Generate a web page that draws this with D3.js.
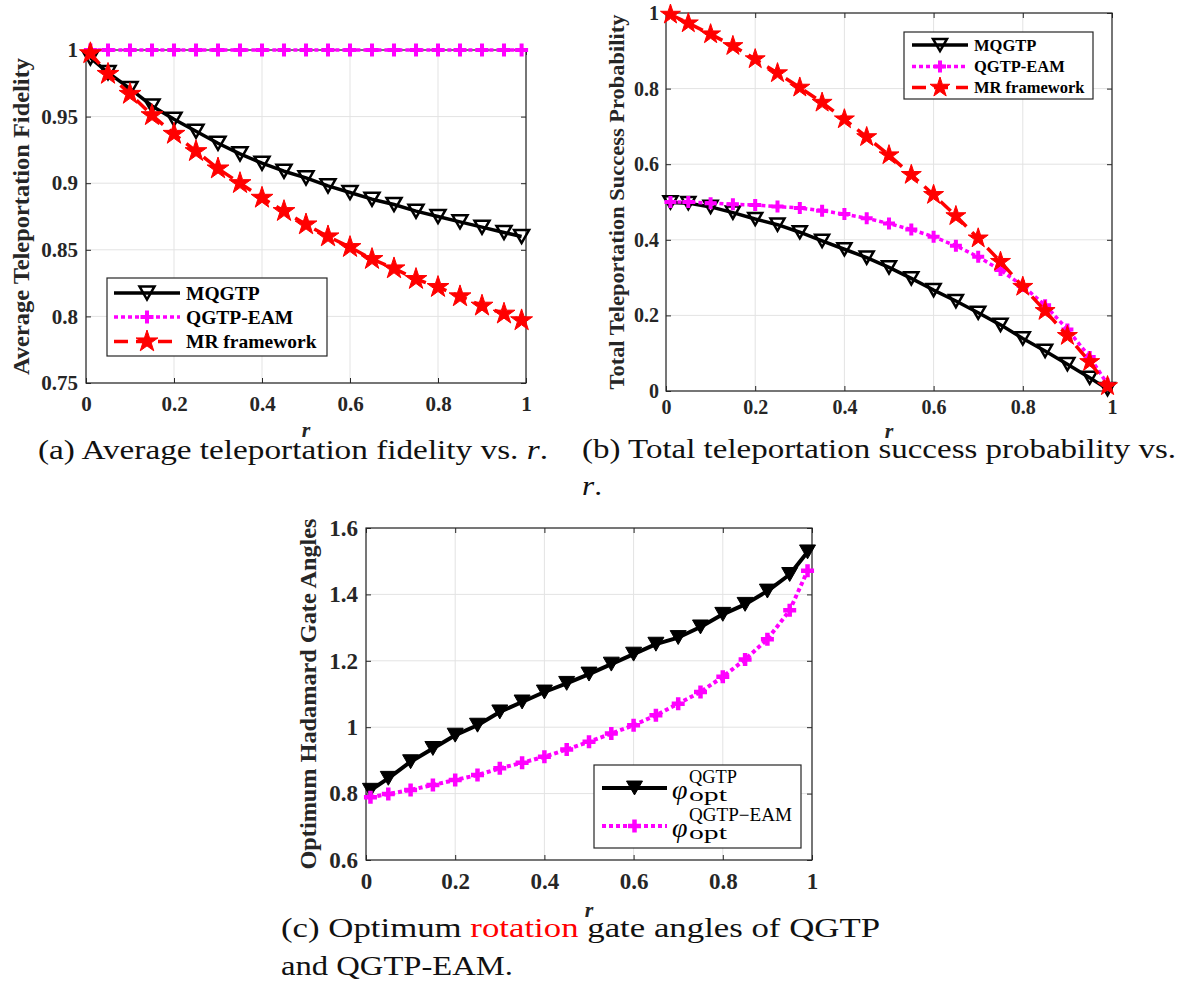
<!DOCTYPE html>
<html>
<head>
<meta charset="utf-8">
<script src="https://cdn.jsdelivr.net/npm/d3@7"></script>
<style>
  body { margin: 0; background: #fff; }
</style>
</head>
<body>
<div id="fig"></div>
<script>
// r values used for every curve
var rVals = [0.01, 0.05, 0.1, 0.15, 0.2, 0.25, 0.3, 0.35, 0.4, 0.45, 0.5,
             0.55, 0.6, 0.65, 0.7, 0.75, 0.8, 0.85, 0.9, 0.95, 0.99];

// (a) average teleportation fidelity
var fidMQGTP = [0.994, 0.983, 0.971, 0.958, 0.948, 0.939, 0.930, 0.922, 0.915, 0.909, 0.904,
                0.898, 0.893, 0.888, 0.884, 0.879, 0.875, 0.871, 0.867, 0.863, 0.860];
var fidEAM   = [1, 1, 1, 1, 1, 1, 1, 1, 1, 1, 1, 1, 1, 1, 1, 1, 1, 1, 1, 1, 1];
var fidMR    = [0.9975, 0.982, 0.967, 0.951, 0.937, 0.924, 0.911, 0.900, 0.889, 0.879, 0.869,
                0.860, 0.852, 0.843, 0.836, 0.828, 0.822, 0.815, 0.808, 0.802, 0.797];

// (b) total teleportation success probability
var probMQGTP = [0.499, 0.497, 0.487, 0.472, 0.455, 0.440, 0.420, 0.397, 0.375, 0.353, 0.327,
                 0.298, 0.267, 0.238, 0.207, 0.175, 0.139, 0.106, 0.071, 0.035, 0.005];
var probEAM   = [0.500, 0.500, 0.497, 0.494, 0.492, 0.488, 0.484, 0.477, 0.468, 0.457, 0.443,
                 0.427, 0.408, 0.384, 0.355, 0.320, 0.278, 0.227, 0.163, 0.090, 0.018];
var probMR    = [0.996, 0.973, 0.944, 0.913, 0.878, 0.841, 0.803, 0.763, 0.719, 0.672, 0.624,
                 0.572, 0.519, 0.463, 0.404, 0.342, 0.276, 0.212, 0.146, 0.077, 0.013];

// (c) optimum gate angles
var angQGTP = [0.810, 0.846, 0.896, 0.936, 0.976, 1.006, 1.046, 1.076, 1.106, 1.132, 1.160,
               1.190, 1.220, 1.250, 1.270, 1.302, 1.340, 1.370, 1.410, 1.460, 1.528];
var angEAM  = [0.789, 0.799, 0.811, 0.826, 0.841, 0.856, 0.876, 0.893, 0.911, 0.933, 0.956,
               0.981, 1.006, 1.036, 1.071, 1.106, 1.152, 1.204, 1.265, 1.352, 1.471];

// ticks
var xTicks = [0, 0.2, 0.4, 0.6, 0.8, 1];
var xTickLabels = ["0", "0.2", "0.4", "0.6", "0.8", "1"];
var yTicksA = [0.75, 0.8, 0.85, 0.9, 0.95, 1];
var yTickLabelsA = ["0.75", "0.8", "0.85", "0.9", "0.95", "1"];
var yTicksB = [0, 0.2, 0.4, 0.6, 0.8, 1];
var yTickLabelsB = ["0", "0.2", "0.4", "0.6", "0.8", "1"];
var yTicksC = [0.6, 0.8, 1, 1.2, 1.4, 1.6];
var yTickLabelsC = ["0.6", "0.8", "1", "1.2", "1.4", "1.6"];

var serif = "'Liberation Serif','Times New Roman',serif";
var axisCol = "#262626";

var svg = d3.select("#fig").append("svg")
    .attr("width", 1188)
    .attr("height", 985)
    .style("font-family", serif);

// marker drawing
function drawMarker(g, type, cx, cy, s) {
    if (type == "tri" || type == "trifill") {
        var w = s.w, h = s.w * 0.87;
        g.append("path")
            .attr("d", "M" + (cx - w) + "," + (cy - h) + "L" + (cx + w) + "," + (cy - h) + "L" + cx + "," + (cy + h) + "Z")
            .attr("fill", type == "trifill" ? "#000" : "none")
            .attr("stroke", "#000")
            .attr("stroke-width", s.sw)
            .attr("stroke-linejoin", "miter");
    } else if (type == "plus") {
        g.append("path")
            .attr("d", "M" + (cx - s.w) + "," + cy + "H" + (cx + s.w) + "M" + cx + "," + (cy - s.w) + "V" + (cy + s.w))
            .attr("stroke", "#ff00ff")
            .attr("stroke-width", s.sw)
            .attr("fill", "none");
    } else if (type == "star") {
        g.append("path")
            .attr("d", d3.symbol(d3.symbolStar).size(s.w * s.w / 0.8908)())
            .attr("transform", "translate(" + cx + "," + cy + ")")
            .attr("fill", "#ff0000")
            .attr("stroke", "#ff0000")
            .attr("stroke-width", 1);
    }
}

function drawPanel(o) {
    var x = d3.scaleLinear().domain([0, 1]).range([o.left, o.right]);
    var y = d3.scaleLinear().domain(o.yDomain).range([o.bottom, o.top]);
    var g = svg.append("g");

    // grid
    g.selectAll(".gx").data(xTicks).enter().append("line")
        .attr("x1", function (d) { return x(d); })
        .attr("x2", function (d) { return x(d); })
        .attr("y1", o.top).attr("y2", o.bottom)
        .attr("stroke", "#e3e3e3").attr("stroke-width", 1);
    g.selectAll(".gy").data(o.yTicks).enter().append("line")
        .attr("y1", function (d) { return y(d); })
        .attr("y2", function (d) { return y(d); })
        .attr("x1", o.left).attr("x2", o.right)
        .attr("stroke", "#e3e3e3").attr("stroke-width", 1);

    // axes
    g.append("g")
        .attr("transform", "translate(0," + o.bottom + ")")
        .call(d3.axisBottom(x).tickValues(xTicks)
            .tickFormat(function (d, i) { return xTickLabels[i]; })
            .tickSizeInner(-5).tickSizeOuter(0).tickPadding(o.xPad));
    g.append("g")
        .attr("transform", "translate(" + o.left + ",0)")
        .call(d3.axisLeft(y).tickValues(o.yTicks)
            .tickFormat(function (d, i) { return o.yLabels[i]; })
            .tickSizeInner(-5).tickSizeOuter(0).tickPadding(o.yPad));
    g.append("g")
        .attr("transform", "translate(0," + o.top + ")")
        .call(d3.axisTop(x).tickValues(xTicks).tickFormat("").tickSizeInner(-5).tickSizeOuter(0));
    g.append("g")
        .attr("transform", "translate(" + o.right + ",0)")
        .call(d3.axisRight(y).tickValues(o.yTicks).tickFormat("").tickSizeInner(-5).tickSizeOuter(0));
    g.selectAll(".domain").remove();
    g.selectAll(".tick line").attr("stroke", axisCol);
    g.selectAll(".tick text")
        .attr("fill", axisCol)
        .style("font-family", serif)
        .style("font-weight", "bold")
        .style("font-size", o.tickFont + "px");
    g.append("rect")
        .attr("x", o.left).attr("y", o.top)
        .attr("width", o.right - o.left).attr("height", o.bottom - o.top)
        .attr("fill", "none").attr("stroke", axisCol).attr("stroke-width", 1.2);

    // y label
    g.append("text")
        .attr("transform", "translate(" + o.yLabelX + "," + ((o.top + o.bottom) / 2) + ") rotate(-90)")
        .attr("text-anchor", "middle")
        .attr("textLength", o.yLabelLen)
        .attr("lengthAdjust", "spacingAndGlyphs")
        .style("font-weight", "bold")
        .style("font-size", o.yLabelFont + "px")
        .attr("fill", axisCol)
        .text(o.yLabel);

    // x label
    g.append("text")
        .attr("x", (o.left + o.right) / 2)
        .attr("y", o.xLabelY)
        .attr("text-anchor", "middle")
        .style("font-weight", "bold")
        .style("font-style", "italic")
        .style("font-size", "22px")
        .attr("fill", axisCol)
        .text("r");

    // series
    o.series.forEach(function (s) {
        var line = d3.line()
            .x(function (d, i) { return x(rVals[i]); })
            .y(function (d) { return y(d); });
        g.append("path")
            .datum(s.values)
            .attr("d", line)
            .attr("fill", "none")
            .attr("stroke", s.color)
            .attr("stroke-width", s.width)
            .attr("stroke-dasharray", s.dash)
            .attr("stroke-linejoin", "round");
        var mg = g.append("g");
        s.values.forEach(function (v, i) {
            drawMarker(mg, s.marker, x(rVals[i]), y(v), s.ms);
        });
    });

    // legend
    var L = o.legend;
    g.append("rect")
        .attr("x", L.x0).attr("y", L.y0)
        .attr("width", L.x1 - L.x0).attr("height", L.y1 - L.y0)
        .attr("fill", "#fff").attr("stroke", axisCol).attr("stroke-width", 1.2);
    o.series.forEach(function (s, i) {
        var ly = L.rows[i];
        g.append("line")
            .attr("x1", L.lx0).attr("x2", L.lx1)
            .attr("y1", ly).attr("y2", ly)
            .attr("stroke", s.color)
            .attr("stroke-width", s.width)
            .attr("stroke-dasharray", s.dash);
        drawMarker(g, s.marker, (L.lx0 + L.lx1) / 2, ly, s.ms);
        if (L.math) {
            g.append("text")
                .attr("x", L.tx).attr("y", ly + 11)
                .style("font-style", "italic")
                .style("font-size", "28px")
                .text("\u03c6");
            g.append("text")
                .attr("x", L.tx + 17).attr("y", ly - 5)
                .attr("textLength", s.supLen)
                .attr("lengthAdjust", "spacingAndGlyphs")
                .style("font-size", "18px")
                .text(s.sup);
            g.append("text")
                .attr("x", L.tx + 17).attr("y", ly + 13)
                .attr("textLength", 38)
                .attr("lengthAdjust", "spacingAndGlyphs")
                .style("font-size", "18px")
                .text("opt");
        } else {
            g.append("text")
                .attr("x", L.tx).attr("y", ly + L.font * 0.34)
                .style("font-weight", "bold")
                .style("font-size", L.font + "px")
                .text(s.name);
        }
    });
}

var msTri = {w: 7.5, sw: 2.5};
var msPlus = {w: 6.5, sw: 4};
var msStar = {w: 11.5};

drawPanel({
    left: 86, right: 526, top: 50, bottom: 383,
    yDomain: [0.75, 1], yTicks: yTicksA, yLabels: yTickLabelsA,
    tickFont: 21, xPad: 13, yPad: 8,
    yLabel: "Average Teleportation Fidelity", yLabelX: 29, yLabelLen: 317, yLabelFont: 24,
    xLabelY: 437,
    series: [
        {name: "MQGTP", values: fidMQGTP, color: "#000", width: 3.5, dash: null, marker: "tri", ms: msTri},
        {name: "QGTP-EAM", values: fidEAM, color: "#ff00ff", width: 3.5, dash: "4,3", marker: "plus", ms: msPlus},
        {name: "MR framework", values: fidMR, color: "#ff0000", width: 3.5, dash: "14,8", marker: "star", ms: msStar}
    ],
    legend: {x0: 107, x1: 327, y0: 278, y1: 356, rows: [293, 317, 341.5],
             lx0: 114, lx1: 180, tx: 186, font: 19.5}
});

drawPanel({
    left: 666, right: 1112, top: 13, bottom: 391,
    yDomain: [0, 1], yTicks: yTicksB, yLabels: yTickLabelsB,
    tickFont: 20, xPad: 9, yPad: 7,
    yLabel: "Total Teleportation Success Probability", yLabelX: 624, yLabelLen: 375, yLabelFont: 22,
    xLabelY: 438,
    series: [
        {name: "MQGTP", values: probMQGTP, color: "#000", width: 3.5, dash: null, marker: "tri", ms: {w: 7, sw: 2.5}},
        {name: "QGTP-EAM", values: probEAM, color: "#ff00ff", width: 3.5, dash: "4,3", marker: "plus", ms: {w: 6, sw: 4}},
        {name: "MR framework", values: probMR, color: "#ff0000", width: 3.5, dash: "14,8", marker: "star", ms: {w: 10.5}}
    ],
    legend: {x0: 904, x1: 1093, y0: 32, y1: 99, rows: [45, 66.5, 87.5],
             lx0: 912, lx1: 968, tx: 974, font: 16.5}
});

drawPanel({
    left: 366, right: 812, top: 528, bottom: 860,
    yDomain: [0.6, 1.6], yTicks: yTicksC, yLabels: yTickLabelsC,
    tickFont: 23, xPad: 13, yPad: 8,
    yLabel: "Optimum Hadamard Gate Angles", yLabelX: 316, yLabelLen: 351, yLabelFont: 24,
    xLabelY: 917,
    series: [
        {name: "QGTP", sup: "QGTP", supLen: 48, values: angQGTP, color: "#000", width: 4, dash: null, marker: "trifill", ms: {w: 8, sw: 1}},
        {name: "QGTP-EAM", sup: "QGTP\u2212EAM", supLen: 103, values: angEAM, color: "#ff00ff", width: 4, dash: "4,3", marker: "plus", ms: {w: 6.5, sw: 4.5}}
    ],
    legend: {x0: 594, x1: 801, y0: 765, y1: 848, rows: [788, 826],
             lx0: 602, lx1: 667, tx: 672, math: true}
});

// captions
function caption(xp, yp, len, parts) {
    var t = svg.append("text")
        .attr("x", xp).attr("y", yp)
        .attr("textLength", len)
        .attr("lengthAdjust", "spacingAndGlyphs")
        .style("font-size", "28px")
        .attr("fill", "#111");
    parts.forEach(function (p) {
        t.append("tspan")
            .attr("fill", p.color || "#111")
            .style("font-style", p.italic ? "italic" : "normal")
            .text(p.t);
    });
}
caption(38, 459, 510, [{t: "(a) Average teleportation fidelity vs. "}, {t: "r", italic: true}, {t: "."}]);
caption(582, 458, 594, [{t: "(b) Total teleportation success probability vs."}]);
caption(582, 495, 20, [{t: "r", italic: true}, {t: "."}]);
caption(281, 937, 599, [{t: "(c) Optimum "}, {t: "rotation", color: "#ff0000"}, {t: " gate angles of QGTP"}]);
caption(281, 975, 232, [{t: "and QGTP-EAM."}]);
</script>
</body>
</html>
